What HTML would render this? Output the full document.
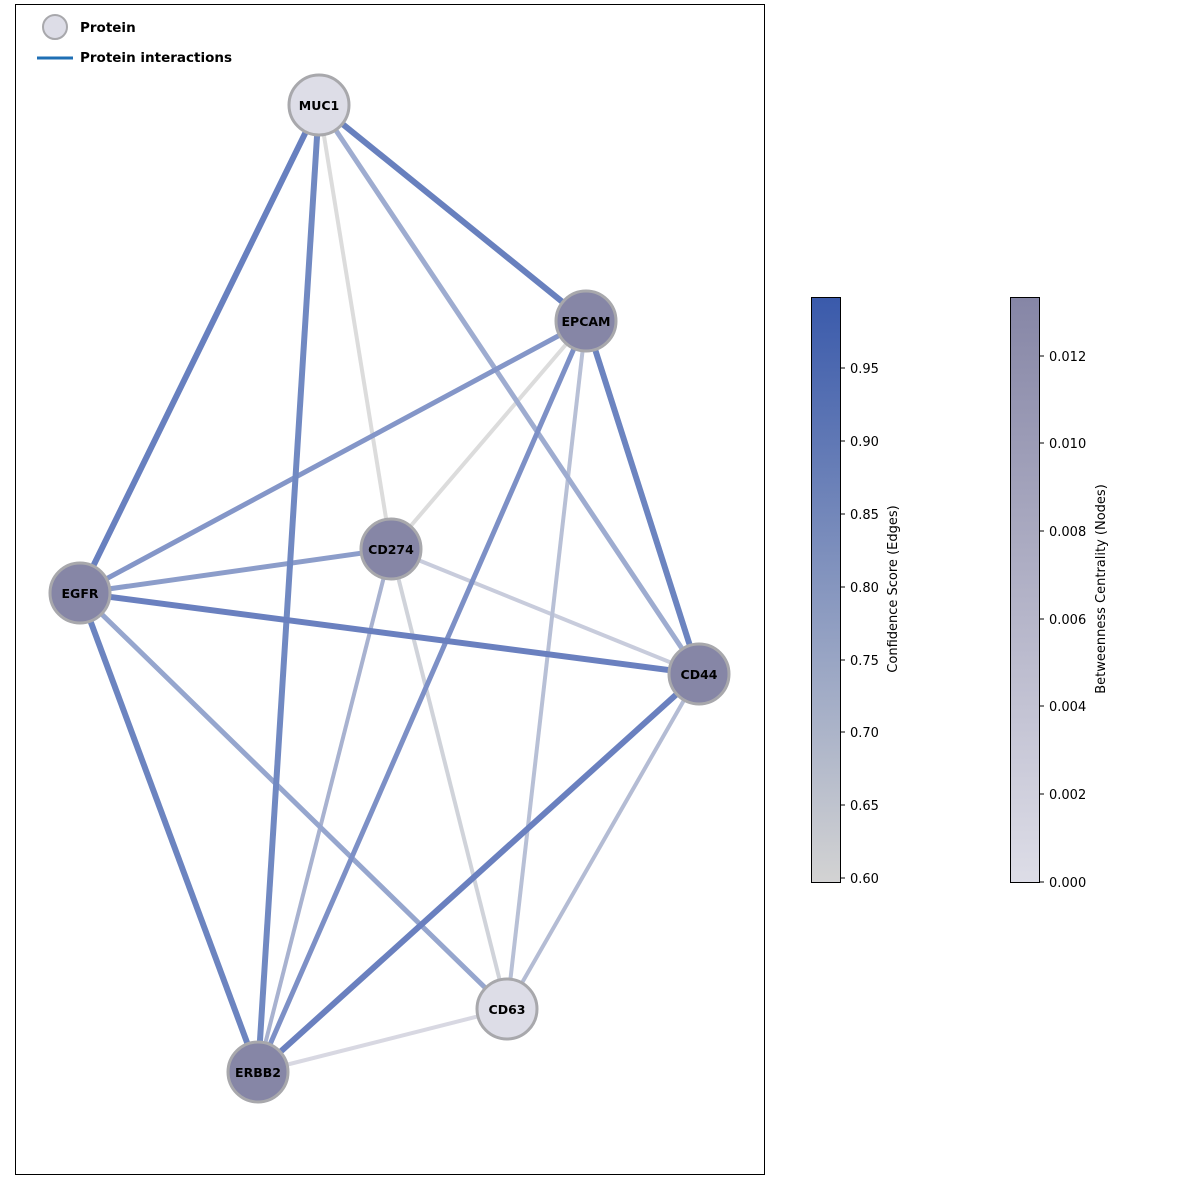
<!DOCTYPE html>
<html><head><meta charset="utf-8"><style>body{margin:0;background:#fff}svg{display:block}</style></head><body>
<svg width="1200" height="1189" xmlns="http://www.w3.org/2000/svg" font-family="'DejaVu Sans','Liberation Sans',sans-serif">
<defs>
<linearGradient id="g1" x1="0" y1="1" x2="0" y2="0"><stop offset="0" stop-color="#d3d3d3"/><stop offset="1" stop-color="#3a5aab"/></linearGradient>
<linearGradient id="g2" x1="0" y1="1" x2="0" y2="0"><stop offset="0" stop-color="#dddde7"/><stop offset="1" stop-color="#8686a6"/></linearGradient>
</defs>
<rect x="15.5" y="4.5" width="749" height="1170" fill="none" stroke="#000" stroke-width="1"/>
<g stroke-linecap="butt" fill="none">
<line x1="319" y1="105" x2="391" y2="549" stroke="#dcdcdc" stroke-width="4"/>
<line x1="586" y1="321" x2="391" y2="549" stroke="#dcdcdc" stroke-width="4"/>
<line x1="391" y1="549" x2="507" y2="1009" stroke="#d0d3da" stroke-width="4"/>
<line x1="507" y1="1009" x2="258" y2="1072" stroke="#d8d8e2" stroke-width="4"/>
<line x1="391" y1="549" x2="699" y2="674" stroke="#c8ccdc" stroke-width="4"/>
<line x1="586" y1="321" x2="507" y2="1009" stroke="#b8c0d6" stroke-width="4"/>
<line x1="699" y1="674" x2="507" y2="1009" stroke="#b4bcd4" stroke-width="4"/>
<line x1="391" y1="549" x2="258" y2="1072" stroke="#a8b2d0" stroke-width="4"/>
<line x1="319" y1="105" x2="699" y2="674" stroke="#9eacd0" stroke-width="5"/>
<line x1="80" y1="593" x2="507" y2="1009" stroke="#96a6ce" stroke-width="5"/>
<line x1="80" y1="593" x2="391" y2="549" stroke="#8c9dca" stroke-width="5"/>
<line x1="586" y1="321" x2="80" y2="593" stroke="#8496c8" stroke-width="5"/>
<line x1="586" y1="321" x2="258" y2="1072" stroke="#7d90c6" stroke-width="5"/>
<line x1="319" y1="105" x2="258" y2="1072" stroke="#7189c2" stroke-width="6"/>
<line x1="319" y1="105" x2="586" y2="321" stroke="#6880be" stroke-width="6"/>
<line x1="586" y1="321" x2="699" y2="674" stroke="#6c84c0" stroke-width="6"/>
<line x1="319" y1="105" x2="80" y2="593" stroke="#6880bf" stroke-width="6"/>
<line x1="80" y1="593" x2="699" y2="674" stroke="#6a80bf" stroke-width="6"/>
<line x1="80" y1="593" x2="258" y2="1072" stroke="#6c84c0" stroke-width="6"/>
<line x1="699" y1="674" x2="258" y2="1072" stroke="#6a80bf" stroke-width="6"/>
</g>
<g stroke="#a8a8ac" stroke-width="3">
<circle cx="319" cy="105" r="30" fill="#dddde7"/>
<circle cx="586" cy="321" r="30" fill="#8686a6"/>
<circle cx="391" cy="549" r="30" fill="#8686a6"/>
<circle cx="80" cy="593" r="30" fill="#8686a6"/>
<circle cx="699" cy="674" r="30" fill="#8686a6"/>
<circle cx="507" cy="1009" r="30" fill="#dddde7"/>
<circle cx="258" cy="1072" r="30" fill="#8686a6"/>
</g>
<g font-size="12.5" font-weight="bold" text-anchor="middle" fill="#000">
<text x="319" y="110">MUC1</text>
<text x="586" y="326">EPCAM</text>
<text x="391" y="554">CD274</text>
<text x="80" y="598">EGFR</text>
<text x="699" y="679">CD44</text>
<text x="507" y="1014">CD63</text>
<text x="258" y="1077">ERBB2</text>
</g>
<circle cx="55" cy="27" r="12" fill="#dddde7" stroke="#a8a8ac" stroke-width="2"/>
<text x="80" y="32" font-size="13.5" font-weight="bold">Protein</text>
<line x1="37" y1="58" x2="73" y2="58" stroke="#1f6fb4" stroke-width="3"/>
<text x="80" y="62" font-size="13.5" font-weight="bold">Protein interactions</text>
<rect x="811.5" y="297.5" width="29" height="585" fill="url(#g1)" stroke="#000"/>
<g font-size="13" fill="#000">
<g stroke="#000"><line x1="840" y1="368" x2="845" y2="368"/><line x1="840" y1="441" x2="845" y2="441"/><line x1="840" y1="514" x2="845" y2="514"/><line x1="840" y1="587" x2="845" y2="587"/><line x1="840" y1="660" x2="845" y2="660"/><line x1="840" y1="732" x2="845" y2="732"/><line x1="840" y1="805" x2="845" y2="805"/><line x1="840" y1="878" x2="845" y2="878"/></g>
<text x="850" y="373">0.95</text><text x="850" y="446">0.90</text><text x="850" y="519">0.85</text><text x="850" y="592">0.80</text><text x="850" y="665">0.75</text><text x="850" y="737">0.70</text><text x="850" y="810">0.65</text><text x="850" y="883">0.60</text>
<text transform="translate(897,589) rotate(-90)" text-anchor="middle">Confidence Score (Edges)</text>
</g>
<rect x="1010.5" y="297.5" width="29" height="585" fill="url(#g2)" stroke="#000"/>
<g font-size="13" fill="#000">
<g stroke="#000"><line x1="1039" y1="356" x2="1044" y2="356"/><line x1="1039" y1="443" x2="1044" y2="443"/><line x1="1039" y1="531" x2="1044" y2="531"/><line x1="1039" y1="619" x2="1044" y2="619"/><line x1="1039" y1="706" x2="1044" y2="706"/><line x1="1039" y1="794" x2="1044" y2="794"/><line x1="1039" y1="882" x2="1044" y2="882"/></g>
<text x="1049" y="361">0.012</text><text x="1049" y="448">0.010</text><text x="1049" y="536">0.008</text><text x="1049" y="624">0.006</text><text x="1049" y="711">0.004</text><text x="1049" y="799">0.002</text><text x="1049" y="887">0.000</text>
<text transform="translate(1105,589) rotate(-90)" text-anchor="middle">Betweenness Centrality (Nodes)</text>
</g>
</svg>
</body></html>
